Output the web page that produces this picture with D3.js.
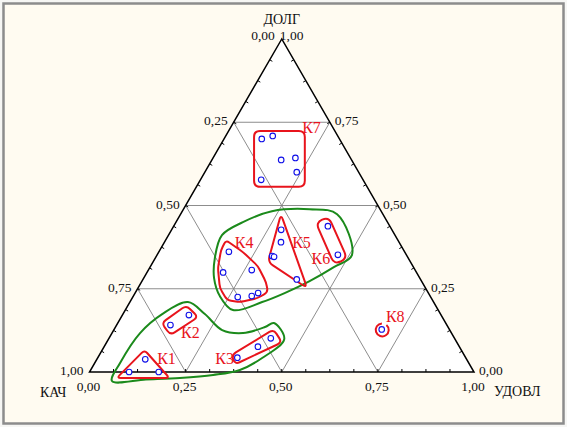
<!DOCTYPE html>
<html><head><meta charset="utf-8">
<script src="https://cdn.jsdelivr.net/npm/d3@7"></script>
<style>html,body{margin:0;padding:0;background:#f4f4f4;}svg{display:block;}</style>
</head><body>
<script>
// ---- data (ternary compositions: КАЧ + ДОЛГ + УДОВЛ = 1) ----
const pointCluster = ["К1","К1","К1","К2","К2","К3","К3","К3",
  "К4","К4","К4","К4","К4","К4","К5","К5","К5","К5","К5","К6","К6",
  "К7","К7","К7","К7","К7","К7","К8"];
const udovl = [0.126,0.103,0.180,0.140,0.173,0.363,0.400,0.421,
  0.182,0.198,0.269,0.273,0.308,0.320,0.285,0.303,0.301,0.307,0.400,0.401,0.470,
  0.098,0.122,0.180,0.214,0.239,0.158,0.696];
const dolg = [0.038,0.000,0.000,0.141,0.171,0.043,0.076,0.101,
  0.361,0.299,0.306,0.225,0.228,0.237,0.427,0.390,0.348,0.346,0.278,0.438,0.352,
  0.700,0.709,0.637,0.643,0.600,0.577,0.128];
const kach = [0.836,0.897,0.820,0.719,0.656,0.594,0.524,0.478,
  0.457,0.503,0.425,0.502,0.464,0.443,0.288,0.307,0.351,0.347,0.322,0.161,0.178,
  0.202,0.169,0.183,0.143,0.161,0.265,0.176];

const tickValues = [0, 0.25, 0.5, 0.75, 1];
const fmt = v => v.toFixed(2).replace(".", ",");
const axisTitles = ["ДОЛГ", "КАЧ", "УДОВЛ"];

// cluster outlines, [УДОВЛ, ДОЛГ] pairs
const clusterNames = ["К1","К2","К3","К4","К5","К6","К7"];
const clusterOutlines = [
  [[0.110,0.066],[0.217,-0.018],[0.080,-0.018]],
  [[0.114,0.147],[0.152,0.200],[0.200,0.165],[0.155,0.111]],
  [[0.344,0.051],[0.415,0.128],[0.456,0.089],[0.367,0.023]],
  [[0.157,0.396],[0.219,0.360],[0.279,0.318],[0.324,0.270],[0.344,0.240],[0.327,0.222],
   [0.286,0.210],[0.250,0.216],[0.213,0.252],[0.178,0.312],[0.159,0.366]],
  [[0.261,0.474],[0.440,0.252],[0.299,0.330]],
  [[0.389,0.466],[0.500,0.341],[0.475,0.323],[0.364,0.449]],
  [[0.066,0.724],[0.198,0.724],[0.282,0.556],[0.150,0.556]]
];
const clusterLabelAt = [[0.164,0.024],[0.187,0.102],[0.315,0.024],[0.192,0.372],
  [0.341,0.372],[0.416,0.323],[0.194,0.718]];
const ringName = "К8";
const ringLabelAt = [0.696,0.150];
const groupOutlines = [
  [[0.139,0.411],[0.174,0.450],[0.233,0.483],[0.328,0.489],[0.407,0.474],[0.507,0.351],
   [0.478,0.315],[0.436,0.273],[0.389,0.237],[0.344,0.210],[0.280,0.186],[0.225,0.228],
   [0.183,0.282],[0.155,0.342]],
  [[0.072,-0.027],[0.066,0.027],[0.073,0.117],[0.102,0.174],[0.151,0.210],[0.213,0.174],
   [0.282,0.126],[0.341,0.117],[0.389,0.135],[0.406,0.147],[0.457,0.099],[0.428,0.042],
   [0.388,0.006],[0.326,-0.009],[0.244,-0.018],[0.158,-0.0225]]
];

// ---- layout ----
const W = 567, H = 427;
const X0 = 89.5, X1 = 474, Y0 = 372, Y1 = 39;
const x = d3.scaleLinear().domain([0, 1]).range([X0, X1]);
const y = d3.scaleLinear().domain([0, 1]).range([Y0, Y1]);
const P = (a, b) => [x(a + b / 2), y(b)];

const RED = "#e8141c", GREEN = "#1b8a1b", BLUE = "#1010e8";
const FONT = "'Liberation Serif','Times New Roman',serif";

const svg = d3.select("body").append("svg").attr("width", W).attr("height", H);
svg.append("rect").attr("x", 0).attr("y", 0).attr("width", W).attr("height", H).attr("fill", "#f6f6f4");
svg.append("rect").attr("x", 3.5).attr("y", 3.5).attr("width", W - 7).attr("height", H - 7)
  .attr("fill", "#fffbf1").attr("stroke", "#8c8c8c").attr("stroke-width", 2.5);

const A = P(0, 1), B = P(0, 0), C = P(1, 0); // apex, bottom-left, bottom-right
svg.append("path").attr("d", `M${A}L${B}L${C}Z`).attr("fill", "#ffffff");

// grid lines
const grid = svg.append("g").attr("stroke", "#808080").attr("stroke-width", 0.9).attr("fill", "none");
[0.25, 0.5, 0.75].forEach(t => {
  [[P(0, t), P(1 - t, t)], [P(t, 0), P(t, 1 - t)], [P(1 - t, 0), P(0, 1 - t)]].forEach(s => {
    grid.append("line").attr("x1", s[0][0]).attr("y1", s[0][1]).attr("x2", s[1][0]).attr("y2", s[1][1]);
  });
});

// minor ticks
const ticks = svg.append("g").attr("stroke", "#000").attr("stroke-width", 1);
const tl = 3;
d3.range(1, 16).forEach(i => {
  const t = i / 16;
  let p = P(t, 0); ticks.append("line").attr("x1", p[0]).attr("y1", p[1]).attr("x2", p[0]).attr("y2", p[1] - tl);
  p = P(0, t); ticks.append("line").attr("x1", p[0]).attr("y1", p[1]).attr("x2", p[0] + tl * 0.866).attr("y2", p[1] + tl * 0.5);
  p = P(1 - t, t); ticks.append("line").attr("x1", p[0]).attr("y1", p[1]).attr("x2", p[0] - tl * 0.866).attr("y2", p[1] + tl * 0.5);
});

svg.append("path").attr("d", `M${A}L${B}L${C}Z`).attr("fill", "none").attr("stroke", "#000").attr("stroke-width", 1.5).attr("stroke-linejoin", "miter");

// tick labels
const lab = svg.append("g").attr("font-family", FONT).attr("font-size", 13.5).attr("fill", "#111");
tickValues.forEach(v => {
  let p = P(0, 1 - v);
  lab.append("text").attr("x", p[0] - (v === 0 ? 7 : 6)).attr("y", p[1] + (v === 0 ? 1 : 3))
    .attr("text-anchor", "end").text(fmt(v));
  p = P(1 - v, v);
  lab.append("text").attr("x", p[0] + (v === 1 ? -2 : 5)).attr("y", p[1] + (v === 1 ? 1 : 3))
    .attr("text-anchor", "start").text(fmt(v));
  p = P(v, 0);
  lab.append("text").attr("x", p[0] - 1).attr("y", p[1] + 19).attr("text-anchor", "middle").text(fmt(v));
});
const tt = svg.append("g").attr("font-family", FONT).attr("font-size", 14).attr("fill", "#111");
tt.append("text").attr("x", A[0]).attr("y", 24).attr("text-anchor", "middle").text(axisTitles[0]);
tt.append("text").attr("x", 40).attr("y", B[1] + 25).attr("text-anchor", "start").text(axisTitles[1]);
tt.append("text").attr("x", 494).attr("y", C[1] + 24).attr("text-anchor", "start").text(axisTitles[2]);

// green group outlines
const smooth = d3.line().curve(d3.curveCatmullRomClosed.alpha(0.5));
groupOutlines.forEach(o => {
  svg.append("path").attr("d", smooth(o.map(d => P(d[0], d[1]))))
    .attr("fill", "none").attr("stroke", GREEN).attr("stroke-width", 2);
});

function rounded(pts, r) {
  const n = pts.length; let d = "";
  for (let i = 0; i < n; i++) {
    const p0 = pts[(i - 1 + n) % n], p1 = pts[i], p2 = pts[(i + 1) % n];
    const l1 = Math.hypot(p0[0] - p1[0], p0[1] - p1[1]), l2 = Math.hypot(p2[0] - p1[0], p2[1] - p1[1]);
    const rr = Math.min(r, l1 / 2, l2 / 2);
    const a = [p1[0] + (p0[0] - p1[0]) / l1 * rr, p1[1] + (p0[1] - p1[1]) / l1 * rr];
    const b = [p1[0] + (p2[0] - p1[0]) / l2 * rr, p1[1] + (p2[1] - p1[1]) / l2 * rr];
    d += (i === 0 ? "M" : "L") + a[0] + "," + a[1] + "Q" + p1[0] + "," + p1[1] + " " + b[0] + "," + b[1];
  }
  return d + "Z";
}
const radii = [4, 5, 5, 4, 6, 7, 6];
clusterOutlines.forEach((o, i) => {
  svg.append("path").attr("d", rounded(o.map(d => P(d[0], d[1])), radii[i]))
    .attr("fill", "none").attr("stroke", RED).attr("stroke-width", 2).attr("stroke-linejoin", "round");
});

const k8 = pointCluster.indexOf(ringName);
const kc = P(udovl[k8], dolg[k8]);
svg.append("path").attr("transform", `translate(${kc[0] + 0.5},${kc[1] + 0.5})`)
  .attr("d", d3.arc().innerRadius(6.5).outerRadius(6.5).startAngle(0.7).endAngle(2 * Math.PI - 0.05)())
  .attr("fill", "none").attr("stroke", RED).attr("stroke-width", 2);

const cl = svg.append("g").attr("font-family", FONT).attr("font-size", 16).attr("fill", RED);
clusterNames.forEach((nm, i) => {
  const p = P(clusterLabelAt[i][0], clusterLabelAt[i][1]);
  cl.append("text").attr("x", p[0]).attr("y", p[1]).text(nm);
});
{ const p = P(ringLabelAt[0], ringLabelAt[1]); cl.append("text").attr("x", p[0]).attr("y", p[1]).text(ringName); }

svg.append("g").selectAll("circle").data(d3.range(udovl.length)).join("circle")
  .attr("cx", i => P(udovl[i], dolg[i])[0]).attr("cy", i => P(udovl[i], dolg[i])[1])
  .attr("r", 2.8).attr("fill", "#fff").attr("stroke", BLUE).attr("stroke-width", 1.1);
</script>
</body></html>
